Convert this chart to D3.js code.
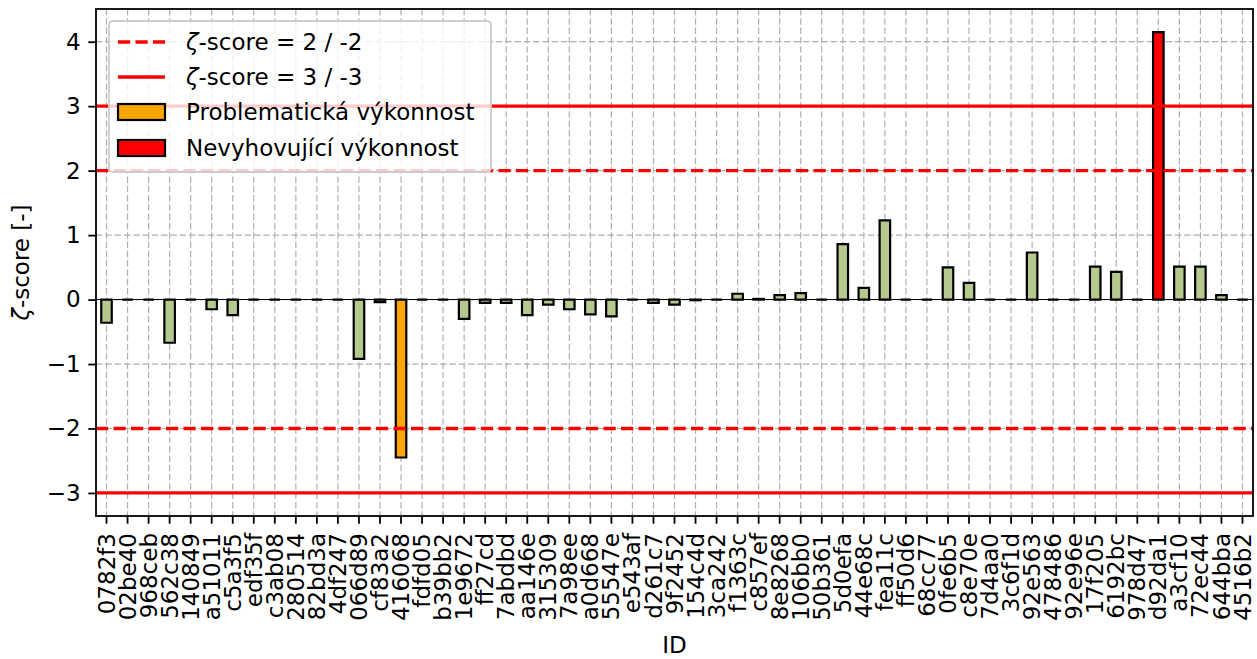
<!DOCTYPE html>
<html>
<head>
<meta charset="utf-8">
<script src="https://cdn.jsdelivr.net/npm/d3@7"></script>
<style>
  body { margin: 0; background: #fff; }
  svg { font-family: "DejaVu Sans", sans-serif; }
</style>
</head>
<body>
<div id="chart"></div>
<script>
// Lab IDs and their zeta-scores
const ids = ["0782f3", "02be40", "968ceb", "562c38", "140849", "a51011", "c5a3f5", "edf35f", "c3ab08", "280514",
  "82bd3a", "4df247", "066d89", "cf83a2", "416068", "fdfd05", "b39bb2", "1e9672", "ff27cd", "7abdbd",
  "aa146e", "315309", "7a98ee", "a0d668", "55547e", "e543af", "d261c7", "9f2452", "154c4d", "3ca242",
  "f1363c", "c857ef", "8e8268", "106bb0", "50b361", "5d0efa", "44e68c", "fea11c", "ff50d6", "68cc77",
  "0fe6b5", "c8e70e", "7d4aa0", "3c6f1d", "92e563", "478486", "92e96e", "17f205", "6192bc", "978d47",
  "d92da1", "a3cf10", "72ec44", "644bba", "4516b2"];
const zScores = [-0.36, 0, 0, -0.67, 0, -0.15, -0.24, 0, 0, 0,
  0, 0, -0.92, -0.04, -2.45, 0, 0, -0.30, -0.05, -0.05,
  -0.24, -0.08, -0.15, -0.23, -0.26, 0, -0.05, -0.08, -0.01, 0,
  0.09, 0.01, 0.07, 0.10, 0, 0.86, 0.18, 1.23, 0, 0,
  0.50, 0.26, 0, 0, 0.73, 0, 0, 0.51, 0.43, 0,
  4.15, 0.51, 0.51, 0.07, 0];
const yTicks = [-3, -2, -1, 0, 1, 2, 3, 4];
const legendLabels = ["-score = 2 / -2", "-score = 3 / -3", "Problematická výkonnost", "Nevyhovující výkonnost"];

const W = 1257, H = 659;
const margin = { top: 9, right: 4, bottom: 143, left: 96 };
const width = W - margin.left - margin.right;
const height = H - margin.top - margin.bottom;
const fs = 23;

const svg = d3.select("#chart").append("svg").attr("width", W).attr("height", H);
const g = svg.append("g").attr("transform", `translate(${margin.left},${margin.top})`);

const data = ids.map((id, i) => ({ id, z: zScores[i] }));

const x = d3.scaleBand().domain(ids).range([0, width]).paddingInner(0.5).paddingOuter(0.25);
const xc = (id) => x(id) + x.bandwidth() / 2;
const y = d3.scaleLinear().domain([-3.3575, 4.5075]).range([height, 0]);

const barColor = (z) => Math.abs(z) > 3 ? "#ff0000" : Math.abs(z) > 2 ? "#ffa500" : "#b5c98e";

// grid
g.append("g").selectAll("line").data(ids).join("line")
  .attr("x1", xc).attr("x2", xc).attr("y1", 0).attr("y2", height)
  .attr("stroke", "#b0b0b0").attr("stroke-width", 1.2).attr("stroke-dasharray", "6.5,2.8");
g.append("g").selectAll("line").data(yTicks).join("line")
  .attr("x1", 0).attr("x2", width).attr("y1", y).attr("y2", y)
  .attr("stroke", "#b0b0b0").attr("stroke-width", 1.2).attr("stroke-dasharray", "6.5,2.8");

// bars (paths so zero-height bars still show their outline)
g.append("g").selectAll("path").data(data).join("path")
  .attr("d", (d) => {
    const x0 = x(d.id), x1 = x0 + x.bandwidth();
    const y0 = y(0), y1 = y(d.z);
    return `M${x0},${y0}H${x1}V${y1}H${x0}Z`;
  })
  .attr("fill", (d) => barColor(d.z))
  .attr("stroke", "#000").attr("stroke-width", 2.2).attr("stroke-linejoin", "miter");

// reference lines
g.append("line").attr("x1", 0).attr("x2", width).attr("y1", y(0)).attr("y2", y(0))
  .attr("stroke", "#000").attr("stroke-width", 1.1);
[[2, true], [-2, true], [3, false], [-3, false]].forEach(([v, dashed]) => {
  g.append("line").attr("x1", 0).attr("x2", width).attr("y1", y(v)).attr("y2", y(v))
    .attr("stroke", "#ff0000").attr("stroke-width", 3.3)
    .attr("stroke-dasharray", dashed ? "12.2,5.3" : null);
});

// axes
const yAxis = g.append("g").call(d3.axisLeft(y).tickValues(yTicks).tickSize(7.7).tickPadding(7.7)
  .tickFormat((d) => d < 0 ? "\u2212" + Math.abs(d) : d));
const xAxis = g.append("g").attr("transform", `translate(0,${height})`)
  .call(d3.axisBottom(x).tickSize(7.7).tickPadding(7.7));
[yAxis, xAxis].forEach((a) => {
  a.select(".domain").remove();
  a.selectAll(".tick line").attr("stroke", "#000").attr("stroke-width", 1.8);
  a.selectAll("text").attr("font-size", fs).attr("fill", "#000").attr("font-family", "DejaVu Sans");
});
xAxis.selectAll("text")
  .attr("transform", "rotate(-90)")
  .attr("x", -17).attr("y", 0).attr("dy", "0.35em")
  .attr("text-anchor", "end");

g.append("rect").attr("width", width).attr("height", height)
  .attr("fill", "none").attr("stroke", "#000").attr("stroke-width", 1.8);

// axis labels
svg.append("text").attr("x", margin.left + width / 2).attr("y", 653)
  .attr("text-anchor", "middle").attr("font-size", fs).text("ID");
const yl = svg.append("text").attr("transform", `translate(29,${margin.top + height / 2}) rotate(-90)`)
  .attr("text-anchor", "middle").attr("font-size", fs);
yl.append("tspan").attr("font-style", "italic").text("ζ");
yl.append("tspan").text("-score [-]");

// legend
const lg = svg.append("g").attr("transform", "translate(109,21)");
lg.append("rect").attr("width", 382).attr("height", 151).attr("rx", 4)
  .attr("fill", "#fff").attr("fill-opacity", 0.8).attr("stroke", "#cccccc").attr("stroke-width", 1.8);
const rowY = [21, 56, 91, 127];
legendLabels.forEach((lab, i) => {
  const ry = rowY[i];
  if (i < 2) {
    lg.append("line").attr("x1", 9).attr("x2", 56).attr("y1", ry).attr("y2", ry)
      .attr("stroke", "#ff0000").attr("stroke-width", 3.3)
      .attr("stroke-dasharray", i === 0 ? "12.2,5.3" : null);
  } else {
    lg.append("rect").attr("x", 9).attr("y", ry - 8).attr("width", 47).attr("height", 16)
      .attr("fill", i === 2 ? "#ffa500" : "#ff0000").attr("stroke", "#000").attr("stroke-width", 2.2);
  }
  const t = lg.append("text").attr("x", 77).attr("y", ry).attr("dy", "0.35em").attr("font-size", fs);
  if (i < 2) t.append("tspan").attr("font-style", "italic").text("ζ");
  t.append("tspan").text(lab);
});
</script>
</body>
</html>
